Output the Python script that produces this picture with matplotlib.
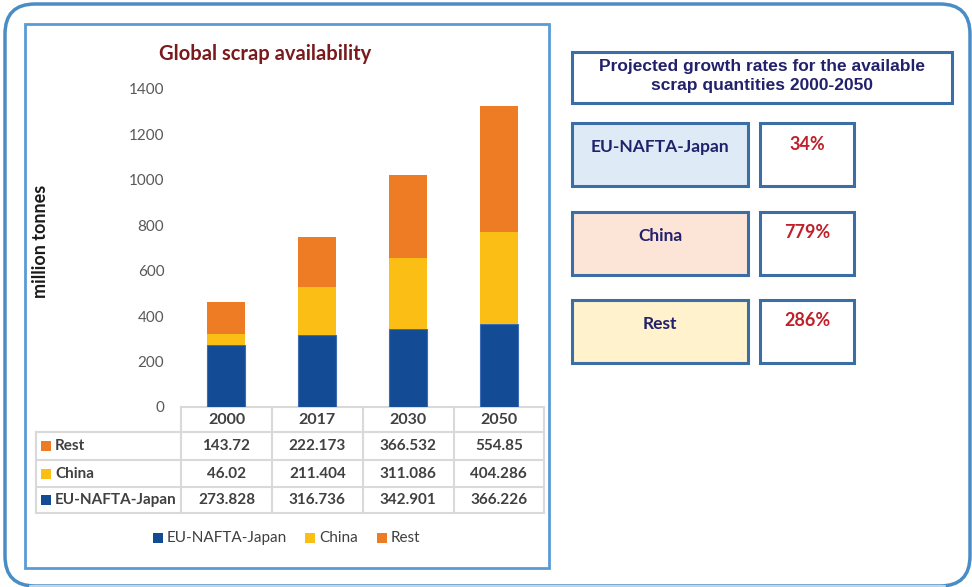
#!/usr/bin/env python3
"""Global scrap availability: stacked bars with a data table, plus growth-rate panel."""

import matplotlib.pyplot as plt
from matplotlib.patches import FancyBboxPatch, Rectangle

years = ["2000", "2017", "2030", "2050"]
regions = ["EU-NAFTA-Japan", "China", "Rest"]
eu_nafta_japan = [273.828, 316.736, 342.901, 366.226]
china = [46.02, 211.404, 311.086, 404.286]
rest = [143.72, 222.173, 366.532, 554.85]
yticks = [0, 200, 400, 600, 800, 1000, 1200, 1400]

colors = {"EU-NAFTA-Japan": "#134C95", "China": "#FBBE14", "Rest": "#EE7C25"}
box_fills = {"EU-NAFTA-Japan": "#DEEBF7", "China": "#FCE4D6", "Rest": "#FFF2CC"}

FONT = "Lato"
W, H = 972, 587


def fx(px):
    return px / W


def fy(py):
    return 1 - py / H


def main():
    series = {"EU-NAFTA-Japan": eu_nafta_japan, "China": china, "Rest": rest}

    fig = plt.figure(figsize=(W / 100, H / 100), dpi=100)

    # pixel-space overlay for frames, table and the side panel
    ov = fig.add_axes([0, 0, 1, 1])
    ov.set_xlim(0, W)
    ov.set_ylim(H, 0)
    ov.axis("off")

    # outer rounded frame runs just past the bottom edge of the canvas
    ov.add_patch(FancyBboxPatch((5, 4), 965, 582, boxstyle="round,pad=0,rounding_size=30",
                                fc="none", ec="#4A8DC6", lw=2.5))
    ov.plot([30, 945], [586.3, 586.3], color="#D4E5F4", lw=1.2)
    ov.add_patch(Rectangle((25, 24), 524, 544, fc="none", ec="#5B9BD5", lw=2))

    # stacked bars
    left, right, base, top = 181, 544, 407, 89
    ax = fig.add_axes([fx(left), fy(base), fx(right) - fx(left), fy(top) - fy(base)])
    ax.set_zorder(2)
    ax.patch.set_alpha(0)
    x = range(len(years))
    bottom = [0.0] * len(years)
    for name in regions:
        vals = series[name]
        edge = "#3C6DB4" if name == "EU-NAFTA-Japan" else "none"
        ax.bar(x, vals, width=0.42, bottom=bottom, color=colors[name], edgecolor=edge, lw=0.8)
        bottom = [b + v for b, v in zip(bottom, vals)]
    ax.set_xlim(-0.5, len(years) - 0.5)
    ax.set_ylim(0, 1400)
    ax.set_yticks(yticks)
    ax.set_yticklabels([str(t) for t in yticks], fontfamily=FONT, fontsize=11, color="#595959")
    ax.set_xticks([])
    ax.tick_params(axis="y", length=0, pad=12)
    for s in ax.spines.values():
        s.set_visible(False)

    ov.text(265, 54, "Global scrap availability", fontfamily=FONT, fontweight="bold",
            fontsize=14.5, color="#7A1A1C", ha="center", va="center")
    ov.text(40, 241, "million tonnes", fontfamily=FONT, fontweight="bold", fontsize=13,
            color="#1A1A1A", rotation=90, ha="center", va="center")

    # data table under the bars
    grid = "#D9D9D9"
    cols = [181, 272, 362.5, 453.5, 544]
    rows = [407, 432, 460, 487, 513]
    ov.plot([cols[0], cols[-1]], [407, 407], color=grid, lw=1.5)
    for y in rows[1:]:
        ov.plot([36, cols[-1]], [y, y], color=grid, lw=1.5)
    ov.plot([36, 36], [432, 513], color=grid, lw=1.5)
    for c in cols:
        ov.plot([c, c], [407, 513], color=grid, lw=1.5)
    for i, yr in enumerate(years):
        ov.text((cols[i] + cols[i + 1]) / 2, 420, yr, fontfamily=FONT, fontweight="bold",
                fontsize=11.5, color="#404040", ha="center", va="center")
    for r, name in enumerate(reversed(regions)):
        yc = (rows[r + 1] + rows[r + 2]) / 2
        ov.add_patch(Rectangle((41, yc - 5), 10, 10, fc=colors[name], ec="none"))
        ov.text(55, yc, name, fontfamily=FONT, fontweight="bold", fontsize=11,
                color="#404040", ha="left", va="center")
        for i, v in enumerate(series[name]):
            ov.text((cols[i] + cols[i + 1]) / 2, yc, f"{v:g}", fontfamily=FONT,
                    fontweight="bold", fontsize=11, color="#404040", ha="center", va="center")

    # legend
    for name, mx in zip(regions, [153, 305, 377]):
        ov.add_patch(Rectangle((mx, 533), 10, 10, fc=colors[name], ec="none"))
        ov.text(mx + 14, 538, name, fontfamily=FONT, fontsize=11, color="#404040",
                ha="left", va="center")

    # growth-rate panel
    edge = "#3A6EA5"
    ov.add_patch(Rectangle((572, 52), 380, 51, fc="white", ec=edge, lw=2.2))
    ov.text(762, 76, "Projected growth rates for the available\nscrap quantities 2000-2050",
            fontfamily="Liberation Sans", fontweight="bold", fontsize=12.5, color="#22216B",
            ha="center", va="center", linespacing=1.3)
    for name, top in zip(regions, [123, 212, 300]):
        vals = series[name]
        growth = (vals[-1] - vals[0]) / vals[0] * 100
        ov.add_patch(Rectangle((572, top), 176, 63, fc=box_fills[name], ec=edge, lw=2.2))
        ov.add_patch(Rectangle((760, top), 94, 63, fc="white", ec=edge, lw=2.2))
        ov.text(660, top + 24, name, fontfamily=FONT, fontweight="bold", fontsize=12.5,
                color="#22216B", ha="center", va="center")
        ov.text(807, top + 21, f"{growth:.0f}%", fontfamily=FONT, fontweight="bold",
                fontsize=13, color="#C0202A", ha="center", va="center")

    fig.savefig("out.png", dpi=100)
    plt.close(fig)


if __name__ == "__main__":
    main()
